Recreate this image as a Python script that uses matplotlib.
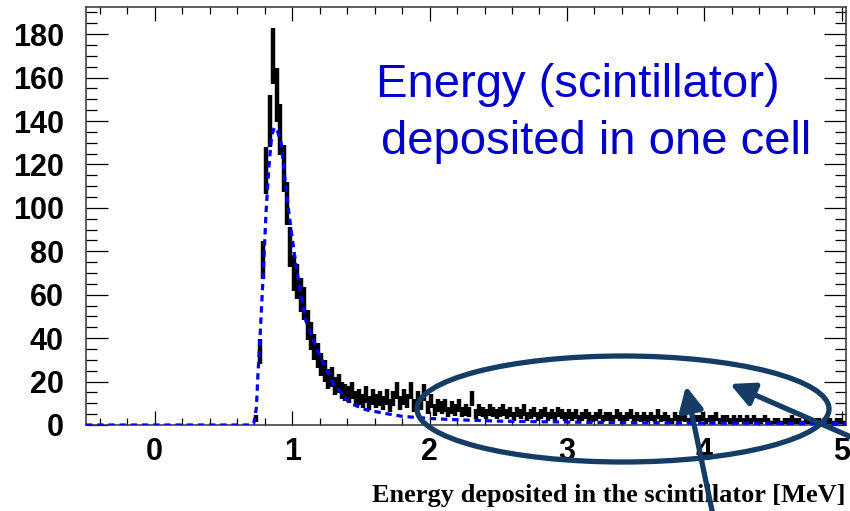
import numpy as np
import matplotlib.pyplot as plt
from matplotlib.patches import Ellipse, FancyArrowPatch
from matplotlib.ticker import MultipleLocator

# histogram: bins of 0.025 MeV starting at 0.725 MeV
bin_start = 0.725
bin_width = 0.025
counts = [
    3, 34, 76, 117, 140, 170, 152, 136, 118, 102,
    82, 70, 66, 60, 56, 46, 41, 36, 32, 28,
    25, 21, 22, 18, 19, 16, 15, 14, 16, 12,
    13, 11, 14, 10, 13, 11, 12, 10, 13, 9,
    12, 16, 10, 13, 11, 16, 9, 12, 10, 15,
    8, 11, 7, 9, 8, 9, 6, 8, 7, 9,
    6, 7, 6, 12, 5, 7, 6, 5, 7, 6,
    5, 6, 7, 5, 6, 4, 6, 5, 7, 4,
    5, 6, 4, 5, 6, 4, 5, 4, 6, 5,
    4, 5, 4, 5, 3, 4, 5, 4, 3, 4,
    5, 3, 4, 4, 3, 5, 4, 3, 4, 5,
    3, 4, 3, 4, 3, 4, 3, 5, 3, 4,
    3, 2, 4, 3, 4, 3, 2, 4, 3, 3,
    4, 2, 3, 3, 4, 2, 3, 3, 2, 3,
    2, 3, 2, 3, 2, 3, 2, 2, 3, 2,
    1, 2, 2, 1, 2, 2, 3, 2, 2, 1,
    2, 2, 1, 2, 2, 1, 2, 2, 1, 2,
    2, 1,
]

# fitted curve
fit_x = [-0.5, 0.70, 0.72, 0.74, 0.75, 0.77, 0.79, 0.81, 0.83, 0.85, 0.87, 0.89,
         0.92, 0.95, 0.98, 1.02, 1.06, 1.10, 1.18, 1.30, 1.42, 1.54, 1.66, 1.80,
         2.0, 2.2, 2.5, 2.8, 3.2, 3.6, 4.0, 4.5, 5.03]
fit_y = [0, 0, 0.5, 8, 22, 45, 70, 98, 118, 133, 137, 136,
         130, 112, 96, 77, 61, 48, 35, 19, 10, 7, 5.5, 4,
         3, 2.4, 1.8, 1.5, 1.2, 1.0, 0.9, 0.8, 0.7]

counts = np.array(counts, dtype=float)
centers = bin_start + bin_width * (np.arange(len(counts)) + 0.5)

fig = plt.figure(figsize=(8.5, 5.11), dpi=100)
ax = fig.add_axes([0.1012, 0.1683, 0.894, 0.818])

ax.errorbar(centers, counts, xerr=bin_width / 2, yerr=np.sqrt(counts),
            fmt='none', ecolor='black', elinewidth=3.2, capsize=0, zorder=2)
ax.plot(fit_x, fit_y, color='#0000FF', linewidth=2.3, linestyle=(0, (2, 1.5)), zorder=3)

ax.set_xlim(-0.5, 5.03)
ax.set_ylim(0, 192.5)
ax.xaxis.set_major_locator(MultipleLocator(1))
ax.xaxis.set_minor_locator(MultipleLocator(0.2))
ax.yaxis.set_major_locator(MultipleLocator(20))
ax.yaxis.set_minor_locator(MultipleLocator(5))

ax.tick_params(axis='both', which='both', direction='in', top=True, right=True, width=0.9)
ax.tick_params(axis='x', which='major', length=10, pad=9)
ax.tick_params(axis='x', which='minor', length=5)
ax.tick_params(axis='y', which='major', length=16, pad=16)
ax.tick_params(axis='y', which='minor', length=8)
for lab in ax.get_xticklabels() + ax.get_yticklabels():
    lab.set_fontfamily('Liberation Sans')
    lab.set_fontweight('bold')
    lab.set_fontsize(22)
for sp in ax.spines.values():
    sp.set_linewidth(1.1)
    sp.set_color('#333333')

fig.text(845 / 850, 1 - 502 / 511, "Energy deposited in the scintillator [MeV]",
         ha='right', va='baseline', fontfamily='Liberation Serif', fontweight='bold',
         fontsize=19)

fig.text(376 / 850, 1 - 97 / 511, "Energy (scintillator)", ha='left', va='baseline',
         fontfamily='Liberation Sans', fontsize=34, color='#0000CC')
fig.text(381 / 850, 1 - 154 / 511, "deposited in one cell", ha='left', va='baseline',
         fontfamily='Liberation Sans', fontsize=34, color='#0000CC')

# annotation: ellipse and arrows
navy = '#143C64'
ell = Ellipse((623 / 850, 1 - 409 / 511), 412 / 850, 106 / 511, transform=fig.transFigure,
              fill=False, edgecolor=navy, linewidth=3.8, zorder=5)
fig.add_artist(ell)
for tail, tip in [((714, 520), (686, 386)), ((858, 440), (730, 384))]:
    arr = FancyArrowPatch((tail[0] / 850, 1 - tail[1] / 511), (tip[0] / 850, 1 - tip[1] / 511),
                          transform=fig.transFigure, arrowstyle='-|>', mutation_scale=36,
                          color=navy, linewidth=3.8, shrinkA=0, shrinkB=0, zorder=6)
    fig.add_artist(arr)

fig.savefig("out.png", dpi=100)
